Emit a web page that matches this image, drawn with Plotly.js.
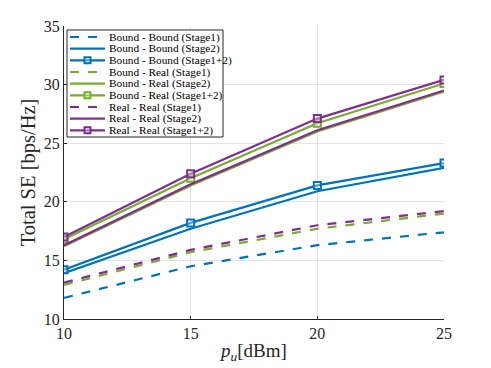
<!DOCTYPE html>
<html>
<head>
<meta charset="utf-8">
<script src="https://cdn.plot.ly/plotly-3.0.1.min.js"></script>
<style>
  body { margin: 0; background: #fff; }
  #plot { width: 491px; height: 368px; }
</style>
</head>
<body>
<div id="plot"></div>
<script>
// transmit power (dBm)
const pu = [10, 15, 20, 25];

// total SE values
const bbStage1 = [11.8, 14.5, 16.3, 17.4];
const bbStage2 = [13.9, 17.7, 20.9, 22.9];
const bbStage12 = [14.2, 18.2, 21.4, 23.3];
const brStage1 = [12.9, 15.7, 17.7, 19.0];
const brStage2 = [16.2, 21.4, 26.0, 29.4];
const brStage12 = [16.8, 22.0, 26.7, 30.1];
const rrStage1 = [13.1, 15.9, 18.0, 19.2];
const rrStage2 = [16.3, 21.5, 26.1, 29.5];
const rrStage12 = [17.0, 22.4, 27.1, 30.4];

const seriesNames = [
    "Bound - Bound (Stage1)", "Bound - Bound (Stage2)", "Bound - Bound (Stage1+2)",
    "Bound - Real (Stage1)", "Bound - Real (Stage2)", "Bound - Real (Stage1+2)",
    "Real - Real (Stage1)", "Real - Real (Stage2)", "Real - Real (Stage1+2)"
];
const seriesValues = [bbStage1, bbStage2, bbStage12, brStage1, brStage2, brStage12, rrStage1, rrStage2, rrStage12];

const blue = "#0072BD";
const green = "#77AC30";
const purple = "#7E2F8E";
const colors = [blue, blue, blue, green, green, green, purple, purple, purple];
const kinds = ["dash", "solid", "mark", "dash", "solid", "mark", "dash", "solid", "mark"];

// plot area in pixels (for the hand-drawn legend box)
const W = 491, H = 368;
const mL = 64, mR = 47, mT = 26, mB = 49;
const pw = W - mL - mR, ph = H - mT - mB;
const px = v => (v - mL) / pw;
const py = v => (H - mB - v) / ph;

let data = seriesValues.map((y, i) => {
    let t = {
        x: pu,
        y: y,
        name: seriesNames[i],
        type: "scatter",
        showlegend: false,
        mode: kinds[i] === "mark" ? "lines+markers" : "lines",
        line: { color: colors[i], width: 2.2, dash: kinds[i] === "dash" ? "dash" : "solid" }
    };
    if (kinds[i] === "mark") {
        t.marker = { symbol: "square", size: 7, color: "rgba(255,255,255,0.35)",
                     line: { color: colors[i], width: 2 } };
    }
    return t;
});

// legend drawn by hand so rows can sit close like the MATLAB one
let shapes = [{
    type: "rect", xref: "paper", yref: "paper",
    x0: px(67), x1: px(223), y0: py(30), y1: py(137),
    fillcolor: "#fff", line: { color: "#262626", width: 1 }, layer: "above"
}];
let annotations = [];
seriesNames.forEach((name, i) => {
    const yc = 37 + i * 11.67;
    shapes.push({
        type: "line", xref: "paper", yref: "paper",
        x0: px(70), x1: px(105), y0: py(yc), y1: py(yc),
        line: { color: colors[i], width: 2.2, dash: kinds[i] === "dash" ? "dash" : "solid" },
        layer: "above"
    });
    if (kinds[i] === "mark") {
        shapes.push({
            type: "rect", xref: "paper", yref: "paper",
            x0: px(84.5), x1: px(90.5), y0: py(yc - 3), y1: py(yc + 3),
            fillcolor: "rgba(255,255,255,0.35)", line: { color: colors[i], width: 2 },
            layer: "above"
        });
    }
    annotations.push({
        xref: "paper", yref: "paper", x: px(107), y: py(yc),
        xanchor: "left", yanchor: "middle", showarrow: false,
        text: name, font: { size: 11.3, color: "#000" }
    });
});

let layout = {
    width: W,
    height: H,
    margin: { l: mL, r: mR, t: mT, b: mB },
    paper_bgcolor: "#fff",
    plot_bgcolor: "#fff",
    font: { family: "Liberation Serif, serif", color: "#262626" },
    showlegend: false,
    shapes: shapes,
    annotations: annotations,
    xaxis: {
        range: [10, 25],
        tickvals: [10, 15, 20, 25],
        showgrid: true, gridcolor: "#e3e3e3", zeroline: false,
        showline: true, linecolor: "#262626", linewidth: 1,
        ticks: "inside", ticklen: 3, tickcolor: "#262626",
        tickfont: { size: 16 },
        title: { text: "<i>p</i><sub><i>u</i></sub>[dBm]", font: { size: 19 }, standoff: 2 }
    },
    yaxis: {
        range: [10, 35],
        tickvals: [10, 15, 20, 25, 30, 35],
        showgrid: true, gridcolor: "#e3e3e3", zeroline: false,
        showline: true, linecolor: "#262626", linewidth: 1,
        ticks: "inside", ticklen: 3, tickcolor: "#262626",
        tickfont: { size: 16 },
        title: { text: "Total SE [bps/Hz]", font: { size: 20.5 }, standoff: 2 }
    }
};

Plotly.newPlot("plot", data, layout, { displayModeBar: false, staticPlot: true });
</script>
</body>
</html>
